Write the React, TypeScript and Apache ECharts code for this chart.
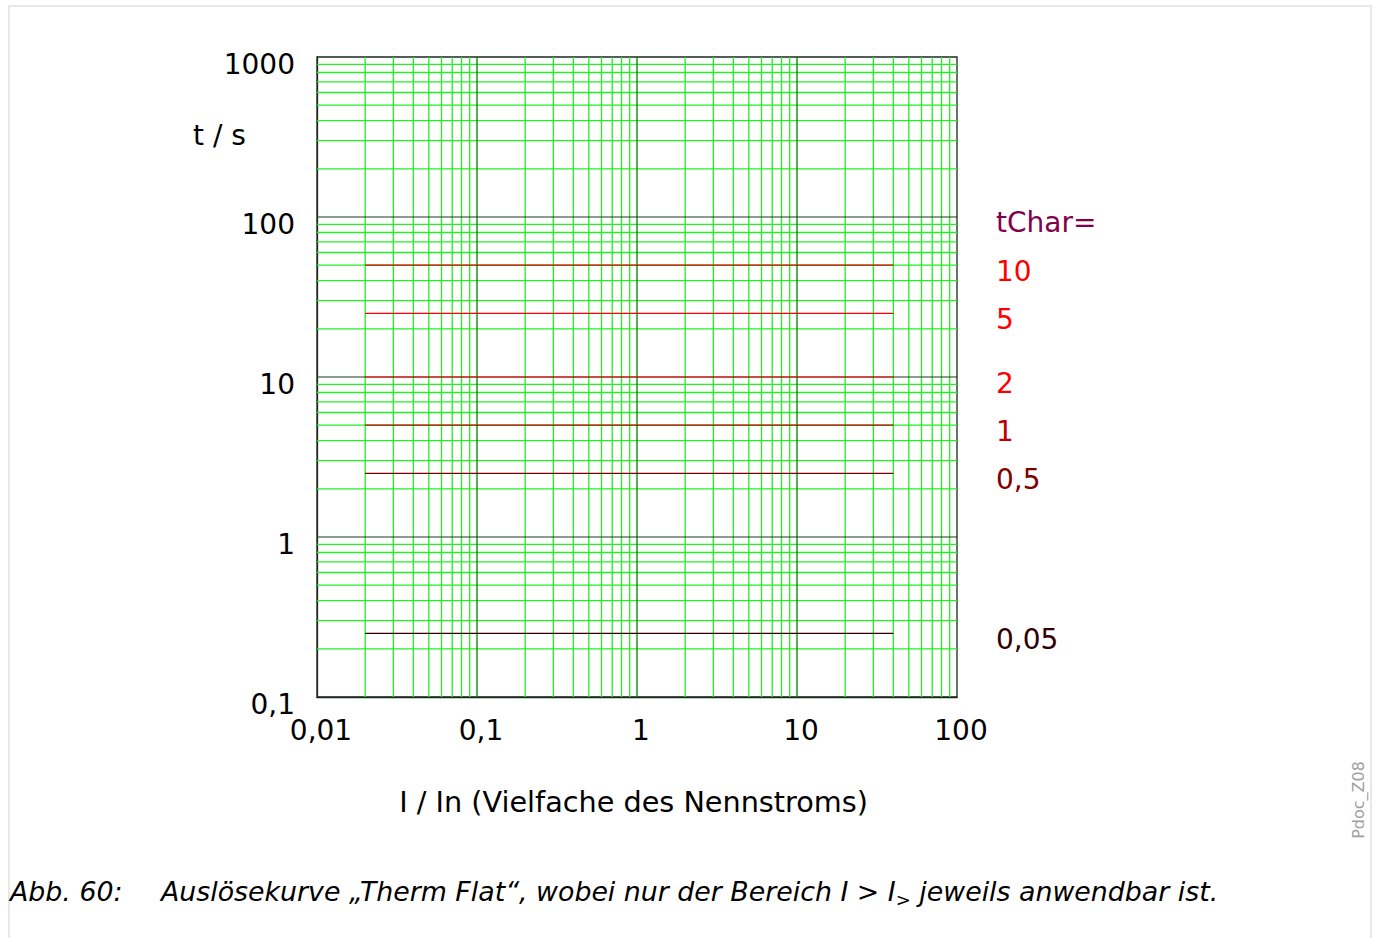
import React, { useEffect, useRef } from "react";
import * as echarts from "echarts";

// ---- data ----
const xMin = 0.01;
const xMax = 100;
const yMin = 0.1;
const yMax = 1000;
const decadesX = [0.01, 0.1, 1, 10];
const decadesY = [0.1, 1, 10, 100];
const minorMultipliers = [2, 3, 4, 5, 6, 7, 8, 9];
const majorX = [0.1, 1, 10];
const majorY = [1, 10, 100];
const tCharLabels = ["10", "5", "2", "1", "0,5", "0,05"];
const tripTimes = [50, 25, 10, 5, 2.5, 0.25];
const currentRange = [0.02, 40];
const curveColors = ["#e00000", "#ff0000", "#ff0000", "#c00000", "#800000", "#300000"];
const labelColors = ["#ff0000", "#ff0000", "#ff0000", "#c00000", "#800000", "#300000"];

const FONT = "DejaVu Sans";
const CAP_SIZE = 26.8;

function fmt(v: number): string {
  const n = Number(v.toPrecision(6));
  return String(n).replace(".", ",");
}

function vLine(x: number, color: string, width: number, z: number) {
  return {
    type: "line",
    data: [[x, yMin], [x, yMax]],
    symbol: "none",
    silent: true,
    z,
    lineStyle: { color, width },
  };
}
function hLine(y: number, color: string, width: number, z: number) {
  return {
    type: "line",
    data: [[xMin, y], [xMax, y]],
    symbol: "none",
    silent: true,
    z,
    lineStyle: { color, width },
  };
}

export default function App() {
  const ref = useRef<HTMLDivElement>(null);
  useEffect(() => {
    if (!ref.current) return;
    const chart = echarts.init(ref.current, undefined, { renderer: "svg" });

    const series: any[] = [];
    decadesX.forEach((d) => minorMultipliers.forEach((m) => series.push(vLine(d * m, "#22ee22", 1.3, 1))));
    decadesY.forEach((d) => minorMultipliers.forEach((m) => series.push(hLine(d * m, "#22ee22", 1.3, 1))));
    majorX.forEach((x) => series.push(vLine(x, "#0c8a0c", 1.4, 2)));
    majorY.forEach((y) => series.push(hLine(y, "#1a3a1a", 1.2, 2)));
    tripTimes.forEach((t, i) =>
      series.push({
        type: "line",
        data: [[currentRange[0], t], [currentRange[1], t]],
        symbol: "none",
        silent: true,
        z: 3,
        lineStyle: { color: curveColors[i], width: 1.2 },
      })
    );

    // caption measurement
    const cv = document.createElement("canvas").getContext("2d")!;
    cv.font = `italic ${CAP_SIZE}px "${FONT}"`;
    const capA = "Auslösekurve „Therm Flat“, wobei nur der Bereich I > I";
    const capAx = 161;
    const wA = cv.measureText(capA).width;
    cv.font = `italic 18px "${FONT}"`;
    const wSub = cv.measureText(">").width;
    const capC = " jeweils anwendbar ist.";

    const graphic: any[] = [
      {
        id: "frame",
        type: "rect",
        shape: { x: 9, y: 6, width: 1362, height: 1000 },
        style: { fill: "none", stroke: "#e8e8e8", lineWidth: 2 },
        silent: true,
      },
      {
        id: "yname",
        type: "text",
        x: 193,
        y: 135,
        style: { text: "t / s", fontSize: 28, fontFamily: FONT, fill: "#000", align: "left", verticalAlign: "middle" },
      },
      {
        id: "xname",
        type: "text",
        x: 633.5,
        y: 802,
        style: {
          text: "I / In (Vielfache des Nennstroms)",
          fontSize: 28.7,
          fontFamily: FONT,
          fill: "#000",
          align: "center",
          verticalAlign: "middle",
        },
      },
      {
        id: "tchar",
        type: "text",
        x: 996,
        y: 222,
        style: { text: "tChar=", fontSize: 28, fontFamily: FONT, fill: "#800050", align: "left", verticalAlign: "middle" },
      },
      {
        id: "capNum",
        type: "text",
        x: 10,
        y: 891,
        style: { text: "Abb. 60:", fontSize: CAP_SIZE, fontStyle: "italic", fontFamily: FONT, fill: "#000", align: "left", verticalAlign: "middle" },
      },
      {
        id: "capA",
        type: "text",
        x: capAx,
        y: 891,
        style: { text: capA, fontSize: CAP_SIZE, fontStyle: "italic", fontFamily: FONT, fill: "#000", align: "left", verticalAlign: "middle" },
      },
      {
        id: "capSub",
        type: "text",
        x: capAx + wA,
        y: 899,
        style: { text: ">", fontSize: 18, fontStyle: "italic", fontFamily: FONT, fill: "#000", align: "left", verticalAlign: "middle" },
      },
      {
        id: "capC",
        type: "text",
        x: capAx + wA + wSub,
        y: 891,
        style: { text: capC, fontSize: CAP_SIZE, fontStyle: "italic", fontFamily: FONT, fill: "#000", align: "left", verticalAlign: "middle" },
      },
      {
        id: "pdoc",
        type: "text",
        x: 1358,
        y: 800,
        rotation: Math.PI / 2,
        style: { text: "Pdoc_Z08", fontSize: 16, fontFamily: FONT, fill: "#a0a0a0", align: "center", verticalAlign: "middle" },
      },
    ];

    chart.setOption({
      animation: false,
      backgroundColor: "#ffffff",
      grid: {
        left: 317,
        top: 57,
        width: 640,
        height: 640,
        show: true,
        borderColor: "#1a2a1a",
        borderWidth: 1.3,
        backgroundColor: "transparent",
      },
      xAxis: {
        type: "log",
        logBase: 10,
        min: xMin,
        max: xMax,
        axisLine: { show: true, lineStyle: { color: "#1a2a1a", width: 1.3 } },
        axisTick: { show: false },
        splitLine: { show: false },
        axisLabel: {
          fontSize: 28,
          fontFamily: FONT,
          color: "#000",
          margin: 19,
          padding: [0, 0, 0, 8],
          formatter: (v: number) => fmt(v),
        },
      },
      yAxis: {
        type: "log",
        logBase: 10,
        min: yMin,
        max: yMax,
        axisLine: { show: true, lineStyle: { color: "#1a2a1a", width: 1.3 } },
        axisTick: { show: false },
        splitLine: { show: false },
        axisLabel: {
          fontSize: 28,
          fontFamily: FONT,
          color: "#000",
          margin: 22,
          verticalAlign: "top",
          lineHeight: 14,
          formatter: (v: number) => fmt(v),
        },
      },
      series,
      graphic,
    });

    const labelGraphics = tripTimes.map((t, i) => {
      const p = chart.convertToPixel({ gridIndex: 0 }, [currentRange[1], t]) as number[];
      return {
        id: "tl" + i,
        type: "text",
        x: 996,
        y: p[1] + 6,
        style: {
          text: tCharLabels[i],
          fontSize: 28,
          fontFamily: FONT,
          fill: labelColors[i],
          align: "left",
          verticalAlign: "middle",
        },
      };
    });
    chart.setOption({ graphic: labelGraphics });

    return () => chart.dispose();
  }, []);

  return (
    <div
      ref={ref}
      style={{ position: "fixed", left: 0, top: 0, width: 1377, height: 938, background: "#fff" }}
    />
  );
}
